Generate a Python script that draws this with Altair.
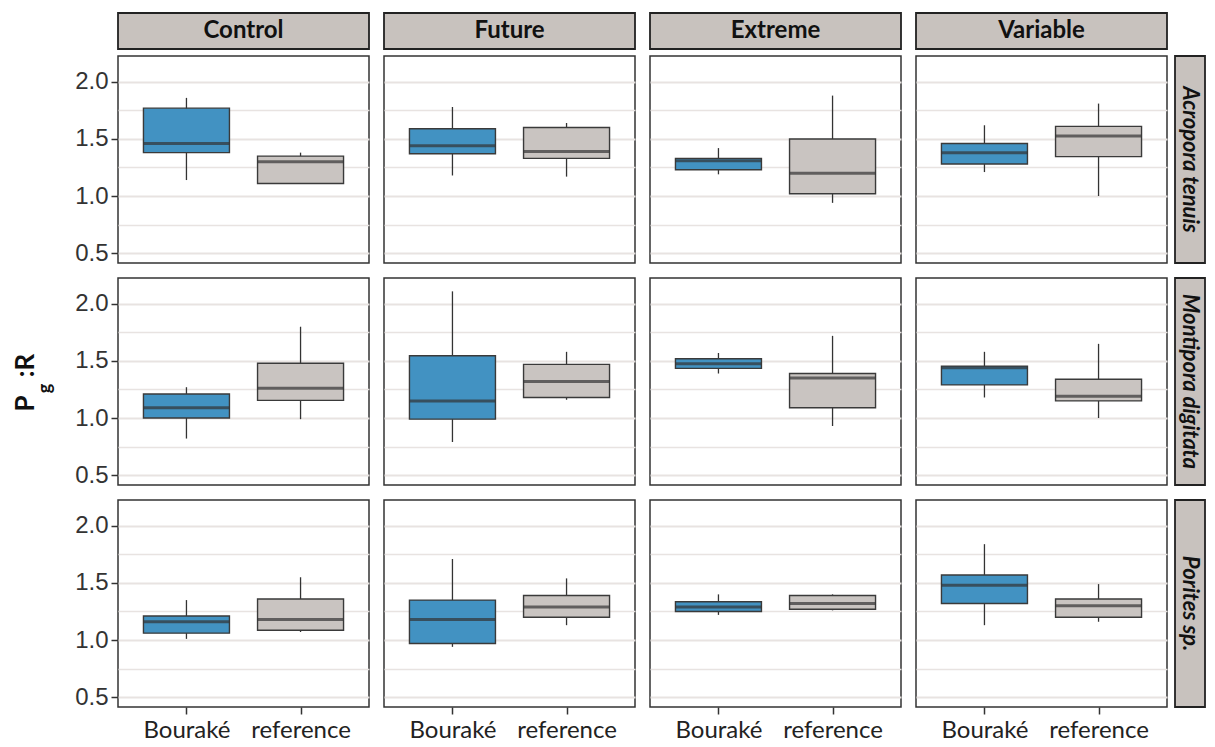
import altair as alt
import pandas as pd

species = ["Acropora tenuis", "Montipora digitata", "Porites sp."]
treatments = ["Control", "Future", "Extreme", "Variable"]
sites = ["Bouraké", "reference"]

# order: species -> treatment -> site (Bouraké, reference)
ymin = [1.14, 1.11, 1.18, 1.17, 1.19, 0.94, 1.21, 1.00,
        0.82, 0.99, 0.79, 1.16, 1.39, 0.93, 1.18, 1.00,
        1.01, 1.07, 0.94, 1.13, 1.22, 1.26, 1.13, 1.16]
q1 = [1.38, 1.11, 1.37, 1.33, 1.23, 1.02, 1.28, 1.345,
      1.00, 1.155, 0.99, 1.18, 1.435, 1.09, 1.29, 1.15,
      1.06, 1.085, 0.97, 1.20, 1.25, 1.27, 1.32, 1.20]
med = [1.46, 1.30, 1.44, 1.39, 1.31, 1.20, 1.38, 1.525,
       1.09, 1.26, 1.15, 1.32, 1.475, 1.35, 1.44, 1.19,
       1.16, 1.18, 1.18, 1.29, 1.29, 1.32, 1.48, 1.30]
q3 = [1.77, 1.35, 1.59, 1.60, 1.33, 1.50, 1.46, 1.61,
      1.21, 1.48, 1.545, 1.47, 1.52, 1.39, 1.455, 1.34,
      1.21, 1.36, 1.35, 1.39, 1.335, 1.39, 1.57, 1.36]
ymax = [1.86, 1.38, 1.78, 1.64, 1.42, 1.88, 1.62, 1.81,
        1.27, 1.80, 2.11, 1.58, 1.57, 1.72, 1.58, 1.65,
        1.35, 1.55, 1.71, 1.54, 1.40, 1.40, 1.84, 1.49]

y_ticks = [0.5, 0.75, 1.0, 1.25, 1.5, 1.75, 2.0]
y_domain = [0.413, 2.227]

rows = []
i = 0
for sp in species:
    for tr in treatments:
        for st in sites:
            rows.append({"species": sp, "treatment": tr, "site": st,
                         "ymin": ymin[i], "q1": q1[i], "med": med[i],
                         "q3": q3[i], "ymax": ymax[i]})
            i += 1
df = pd.DataFrame(rows)

W, H = 251, 207
BLUE = "#4292c2"
GREY = "#c9c4c1"
STRIP = "#c8c2be"
DARK = "#333333"
GRID = "#e8e3e1"

minor_test = "(datum.value * 2) % 1 != 0"

x_enc = alt.X(
    "site:N", sort=sites,
    scale=alt.Scale(type="point", padding=0.6, domain=sites),
    axis=alt.Axis(title=None, labelAngle=0, labelFont="Lato", labelFontSize=24,
                  labelColor="#222222", tickColor=DARK, tickSize=7, tickWidth=1.5,
                  labelPadding=4, domain=False, gridColor=GRID, gridWidth=2),
)
y_scale = alt.Scale(domain=y_domain, nice=False, zero=False)
y_axis = alt.Axis(
    title=None, values=y_ticks,
    labelExpr="(datum.value * 2) % 1 != 0 ? '' : format(datum.value, '.1f')",
    labelFont="Liberation Sans", labelFontSize=24, labelColor="#333333",
    tickColor=DARK, tickSize=7, tickWidth=1.5, labelPadding=3, domain=False,
    tickOpacity={"condition": {"test": minor_test, "value": 0}, "value": 1},
    gridColor=GRID,
    gridWidth={"condition": {"test": minor_test, "value": 1.5}, "value": 2},
)

whisker = alt.Chart().mark_rule(color=DARK, strokeWidth=1.3).encode(
    x=x_enc,
    y=alt.Y("ymin:Q", scale=y_scale, axis=y_axis),
    y2="ymax:Q",
)
box = alt.Chart().mark_bar(size=86, stroke="#3a3a3a", strokeWidth=1.4).encode(
    x=x_enc,
    y=alt.Y("q1:Q", scale=y_scale, axis=y_axis),
    y2="q3:Q",
    color=alt.Color("site:N", scale=alt.Scale(domain=sites, range=[BLUE, GREY]), legend=None),
)
median = alt.Chart().mark_tick(size=86, thickness=3, color=DARK).encode(
    x=x_enc,
    y=alt.Y("med:Q", scale=y_scale, axis=y_axis),
)

top_filter = (alt.datum.species == species[0]) & (alt.datum.site == sites[0])
top_rect = alt.Chart().transform_filter(top_filter).mark_rect(
    fill=STRIP, stroke="#222222", strokeWidth=1.8
).encode(x=alt.value(0), x2=alt.value(W), y=alt.value(-43), y2=alt.value(-7))
top_text = alt.Chart().transform_filter(top_filter).mark_text(
    font="Lato", fontSize=24, fontWeight="bold", color="#111111",
    align="center", baseline="middle"
).encode(text="treatment:N", x=alt.value(W / 2), y=alt.value(-25))

right_filter = (alt.datum.treatment == treatments[-1]) & (alt.datum.site == sites[0])
right_rect = alt.Chart().transform_filter(right_filter).mark_rect(
    fill=STRIP, stroke="#222222", strokeWidth=1.8
).encode(x=alt.value(W + 8), x2=alt.value(W + 38), y=alt.value(0), y2=alt.value(H))
right_text = alt.Chart().transform_filter(right_filter).mark_text(
    font="Lato", fontSize=22, fontWeight="bold", fontStyle="italic", color="#111111",
    align="center", baseline="middle", angle=90
).encode(text="species:N", x=alt.value(W + 23), y=alt.value(H / 2))

lab_filter = ((alt.datum.species == species[1]) & (alt.datum.treatment == treatments[0])
              & (alt.datum.site == sites[0]))
lab_p = alt.Chart().transform_filter(lab_filter).mark_text(
    text="P", font="Lato", fontSize=26, fontWeight="bold", color="#111111",
    align="center", baseline="middle", angle=270
).encode(x=alt.value(-92), y=alt.value(125.5))
lab_g = alt.Chart().transform_filter(lab_filter).mark_text(
    text="g", font="Lato", fontSize=18, fontWeight="bold", color="#111111",
    align="center", baseline="middle", angle=270
).encode(x=alt.value(-72), y=alt.value(110.5))
lab_r = alt.Chart().transform_filter(lab_filter).mark_text(
    text=":R", font="Lato", fontSize=26, fontWeight="bold", color="#111111",
    align="center", baseline="middle", angle=270
).encode(x=alt.value(-92), y=alt.value(87.5))

layered = alt.layer(
    whisker, box, median, top_rect, top_text, right_rect, right_text,
    lab_p, lab_g, lab_r, data=df
).properties(width=W, height=H)

chart = layered.facet(
    row=alt.Row("species:N", sort=species, title=None, header=alt.Header(labels=False)),
    column=alt.Column("treatment:N", sort=treatments, title=None, header=alt.Header(labels=False)),
    spacing={"row": 15, "column": 15},
    bounds="flush",
).properties(
    padding={"left": 4, "top": 3, "right": 0, "bottom": 0}
).configure_view(
    stroke=DARK, strokeWidth=1.5
)

chart.save("out.html", embed_options={"renderer": "svg", "actions": False})
